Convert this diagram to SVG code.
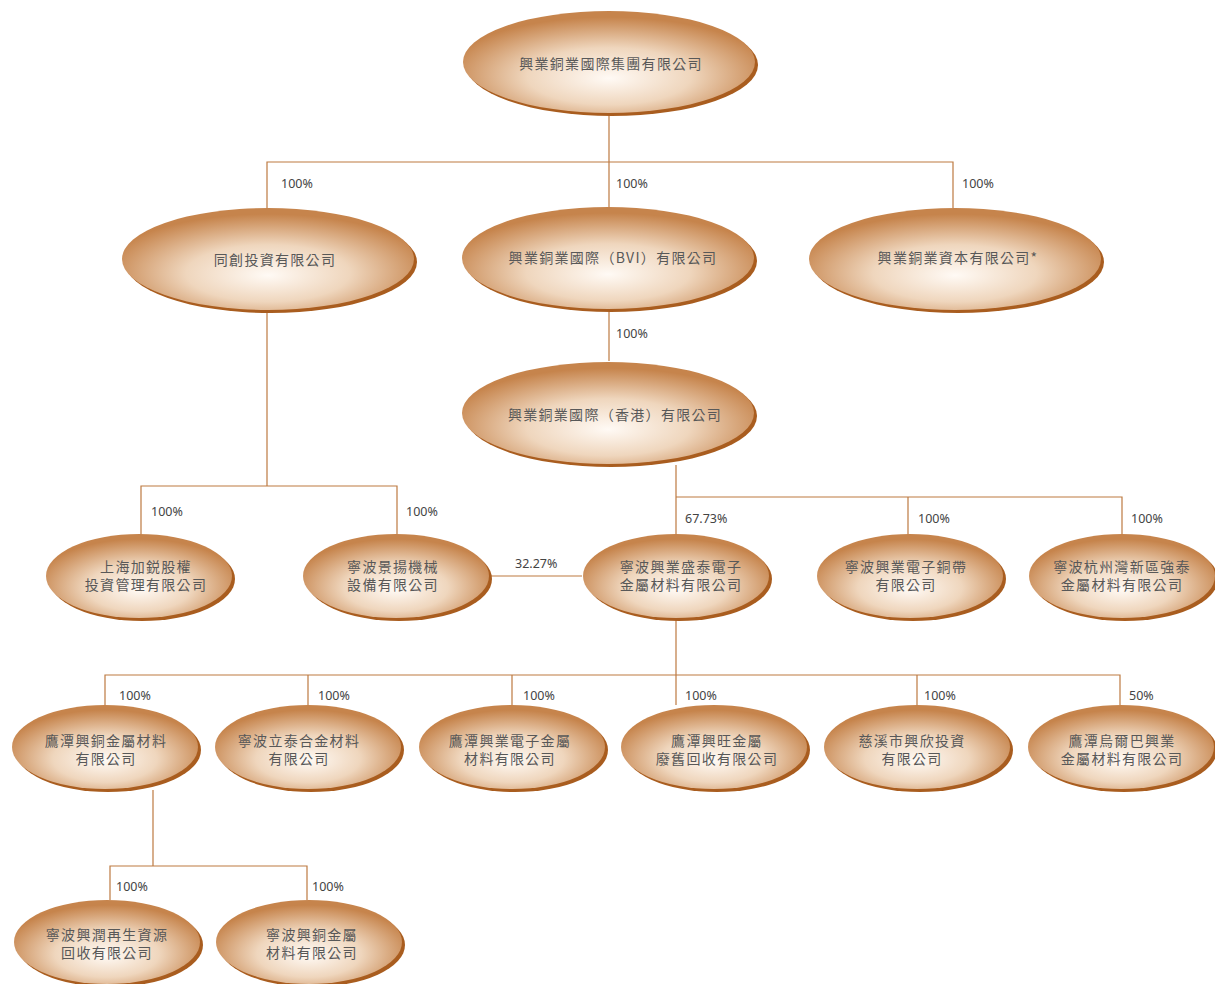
<svg xmlns="http://www.w3.org/2000/svg" width="1215" height="984" viewBox="0 0 1215 984">
<defs>
<radialGradient id="g" cx="50%" cy="62%" r="56%" fx="50%" fy="66%">
<stop offset="0" stop-color="#fffaf5"/>
<stop offset="0.5" stop-color="#efd6bd"/>
<stop offset="1" stop-color="#c6844c"/>
</radialGradient>
<style>
.sh{fill:#a95d1f}
.el{fill:url(#g)}
.t{font-family:"Noto Sans CJK TC","Noto Sans CJK SC",sans-serif;font-size:14px;letter-spacing:1.3px;fill:#585858;text-anchor:middle}
.p{font-family:"Noto Sans","Open Sans",sans-serif;font-size:12.5px;fill:#444}
.c{fill:none;stroke:#bd7a41;stroke-width:1.2}
</style>
</defs>
<rect width="1215" height="984" fill="#fff"/>
<g id="connectors">
<path class="c" d="M609 114V162M267 208V162H953V208M609 162V208"/>
<path class="c" d="M609 310V361"/>
<path class="c" d="M267 312V486M141 535V486H397V535"/>
<path class="c" d="M676 465V497M676 535V497H1122V535M908 497V535"/>
<path class="c" d="M489 576H582"/>
<path class="c" d="M676 618V675M105 705V675H1120V705M308 675V705M512 675V705M676 675V705M917 675V705"/>
<path class="c" d="M153 790V866M110 900V866H307V900"/>
<text class="p" x="281" y="188">100%</text>
<text class="p" x="616" y="188">100%</text>
<text class="p" x="962" y="188">100%</text>
<text class="p" x="616" y="338">100%</text>
<text class="p" x="151" y="516">100%</text>
<text class="p" x="406" y="516">100%</text>
<text class="p" x="685" y="523">67.73%</text>
<text class="p" x="918" y="523">100%</text>
<text class="p" x="1131" y="523">100%</text>
<text class="p" x="515" y="568">32.27%</text>
<text class="p" x="119" y="700">100%</text>
<text class="p" x="318" y="700">100%</text>
<text class="p" x="523" y="700">100%</text>
<text class="p" x="685" y="700">100%</text>
<text class="p" x="924" y="700">100%</text>
<text class="p" x="1129" y="700">50%</text>
<text class="p" x="116" y="891">100%</text>
<text class="p" x="312" y="891">100%</text>
</g>
<g id="n1"><ellipse class="sh" cx="612" cy="65" rx="146" ry="51"/><ellipse class="el" cx="609" cy="62" rx="146" ry="51"/><text class="t" x="611" y="69">興業銅業國際集團有限公司</text></g>
<g id="n2"><ellipse class="sh" cx="271" cy="262" rx="146" ry="51"/><ellipse class="el" cx="268" cy="259" rx="146" ry="51"/><text class="t" x="275" y="265">同創投資有限公司</text></g>
<g id="n3"><ellipse class="sh" cx="611" cy="261" rx="146" ry="51"/><ellipse class="el" cx="608" cy="258" rx="146" ry="51"/><text class="t" x="613" y="263">興業銅業國際（BVI）有限公司</text></g>
<g id="n4"><ellipse class="sh" cx="958" cy="262" rx="146" ry="51"/><ellipse class="el" cx="955" cy="259" rx="146" ry="51"/><text class="t" x="958" y="263">興業銅業資本有限公司*</text></g>
<g id="n5"><ellipse class="sh" cx="611" cy="416" rx="146" ry="51"/><ellipse class="el" cx="608" cy="413" rx="146" ry="51"/><text class="t" x="615" y="420">興業銅業國際（香港）有限公司</text></g>
<g id="n6"><ellipse class="sh" cx="142" cy="579" rx="93" ry="42"/><ellipse class="el" cx="139" cy="576" rx="93" ry="42"/><text class="t" x="146" y="572">上海加鋭股權</text><text class="t" x="146" y="590">投資管理有限公司</text></g>
<g id="n7"><ellipse class="sh" cx="399" cy="579" rx="93" ry="42"/><ellipse class="el" cx="396" cy="576" rx="93" ry="42"/><text class="t" x="393" y="572">寧波景揚機械</text><text class="t" x="393" y="590">設備有限公司</text></g>
<g id="n8"><ellipse class="sh" cx="679" cy="579" rx="93" ry="42"/><ellipse class="el" cx="676" cy="576" rx="93" ry="42"/><text class="t" x="681" y="572">寧波興業盛泰電子</text><text class="t" x="681" y="590">金屬材料有限公司</text></g>
<g id="n9"><ellipse class="sh" cx="913" cy="579" rx="93" ry="42"/><ellipse class="el" cx="910" cy="576" rx="93" ry="42"/><text class="t" x="906" y="572">寧波興業電子銅帶</text><text class="t" x="906" y="590">有限公司</text></g>
<g id="n10"><ellipse class="sh" cx="1125" cy="579" rx="93" ry="42"/><ellipse class="el" cx="1122" cy="576" rx="93" ry="42"/><text class="t" x="1122" y="572">寧波杭州灣新區強泰</text><text class="t" x="1122" y="590">金屬材料有限公司</text></g>
<g id="n11"><ellipse class="sh" cx="108" cy="750" rx="93" ry="42"/><ellipse class="el" cx="105" cy="747" rx="93" ry="42"/><text class="t" x="106" y="746">鷹潭興銅金屬材料</text><text class="t" x="106" y="764">有限公司</text></g>
<g id="n12"><ellipse class="sh" cx="311" cy="750" rx="93" ry="42"/><ellipse class="el" cx="308" cy="747" rx="93" ry="42"/><text class="t" x="299" y="746">寧波立泰合金材料</text><text class="t" x="299" y="764">有限公司</text></g>
<g id="n13"><ellipse class="sh" cx="515" cy="750" rx="93" ry="42"/><ellipse class="el" cx="512" cy="747" rx="93" ry="42"/><text class="t" x="510" y="746">鷹潭興業電子金屬</text><text class="t" x="510" y="764">材料有限公司</text></g>
<g id="n14"><ellipse class="sh" cx="717" cy="750" rx="93" ry="42"/><ellipse class="el" cx="714" cy="747" rx="93" ry="42"/><text class="t" x="717" y="746">鷹潭興旺金屬</text><text class="t" x="717" y="764">廢舊回收有限公司</text></g>
<g id="n15"><ellipse class="sh" cx="920" cy="750" rx="93" ry="42"/><ellipse class="el" cx="917" cy="747" rx="93" ry="42"/><text class="t" x="912" y="746">慈溪市興欣投資</text><text class="t" x="912" y="764">有限公司</text></g>
<g id="n16"><ellipse class="sh" cx="1124" cy="750" rx="93" ry="42"/><ellipse class="el" cx="1121" cy="747" rx="93" ry="42"/><text class="t" x="1122" y="746">鷹潭烏爾巴興業</text><text class="t" x="1122" y="764">金屬材料有限公司</text></g>
<g id="n17"><ellipse class="sh" cx="110" cy="945" rx="93" ry="42"/><ellipse class="el" cx="107" cy="942" rx="93" ry="42"/><text class="t" x="107" y="940">寧波興潤再生資源</text><text class="t" x="107" y="958">回收有限公司</text></g>
<g id="n18"><ellipse class="sh" cx="312" cy="945" rx="93" ry="42"/><ellipse class="el" cx="309" cy="942" rx="93" ry="42"/><text class="t" x="312" y="940">寧波興銅金屬</text><text class="t" x="312" y="958">材料有限公司</text></g>
</svg>
